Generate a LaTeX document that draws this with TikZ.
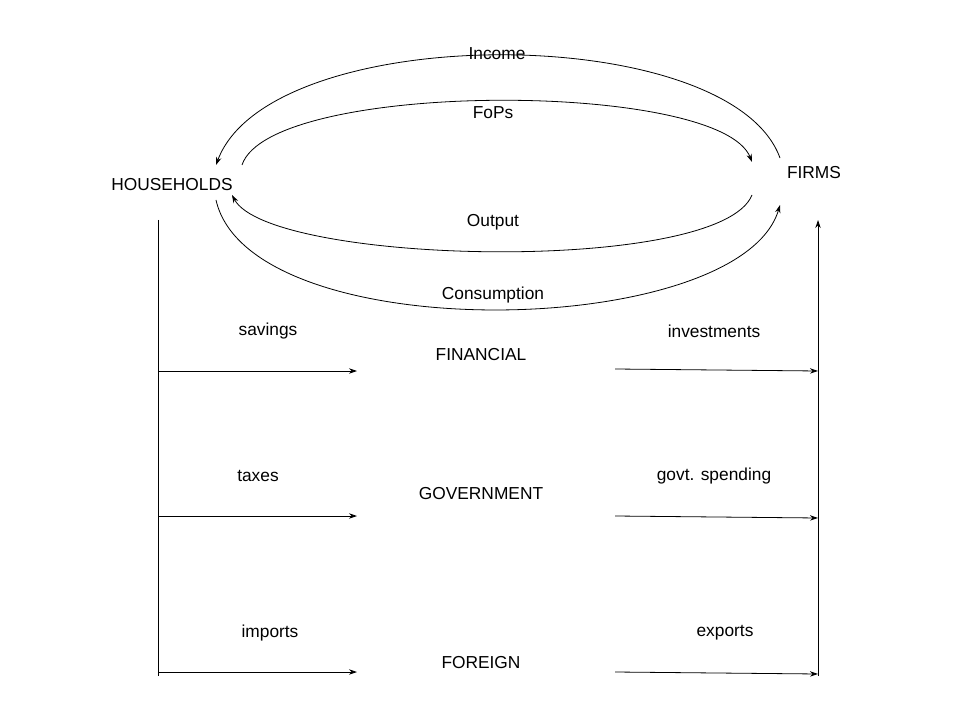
\documentclass[tikz,border=0pt]{standalone}
\usepackage{fontspec}
\setmainfont{Liberation Sans}
\usetikzlibrary{arrows.meta}
\begin{document}
\begin{tikzpicture}[x=0.75pt,y=-0.75pt,
  flow/.style={-{Stealth[length=6pt,width=4pt]},line width=0.6pt},
  ln/.style={line width=0.6pt},
  lab/.style={font=\fontsize{13}{15}\selectfont,inner sep=0pt}]
\useasboundingbox (0,0) rectangle (960,720);
\node[lab] (hh) at (172,185) {HOUSEHOLDS};
\node[lab] (fi) at (814,173) {FIRMS};
\coordinate (inS) at (780,158); \coordinate (inE) at (216,165);
\coordinate (foS) at (242,165); \coordinate (foE) at (752,162);
\coordinate (ouS) at (752,195); \coordinate (ouE) at (232,195);
\coordinate (coS) at (216,200); \coordinate (coE) at (780,205);
\draw[flow] (inS) .. controls (730,20) and (270,20) .. (inE);
\draw[flow] (foS) .. controls (270,80) and (720,80) .. (foE);
\draw[flow] (ouS) .. controls (720,275) and (270,265) .. (ouE);
\draw[flow] (coS) .. controls (250,350) and (740,340) .. (coE);
\node[lab] at (497,54) {Income};
\node[lab] at (493,113) {FoPs};
\node[lab] at (493,222) {Output};
\node[lab] at (493,295) {Consumption};
\coordinate (lt) at (158,220); \coordinate (lb) at (158,676);
\draw[ln] (lt) -- (lb);
\coordinate (rb) at (818,676); \coordinate (rt) at (818,220);
\draw[flow] (rb) -- (rt);
\node[lab] (fin) at (481,355) {FINANCIAL};
\node[lab] (gov) at (481,494) {GOVERNMENT};
\node[lab] (for) at (481,663) {FOREIGN};
\foreach \y/\n in {371/a,516/b,672/c}{
  \coordinate (l\n) at (158,\y); \coordinate (m\n) at (357,\y);
  \draw[flow] (l\n) -- (m\n);}
\foreach \y/\n in {369/a,516/b,672/c}{
  \coordinate (p\n) at (615,\y); \coordinate (q\n) at (818,\y+2);
  \draw[flow] (p\n) -- (q\n);}
\node[lab] at (268,331) {savings};
\node[lab] at (714,331) {investments};
\node[lab] at (258,476) {taxes};
\node[lab] at (714,476) {govt. spending};
\node[lab] at (270,633) {imports};
\node[lab] at (725,633) {exports};
\end{tikzpicture}
\end{document}
